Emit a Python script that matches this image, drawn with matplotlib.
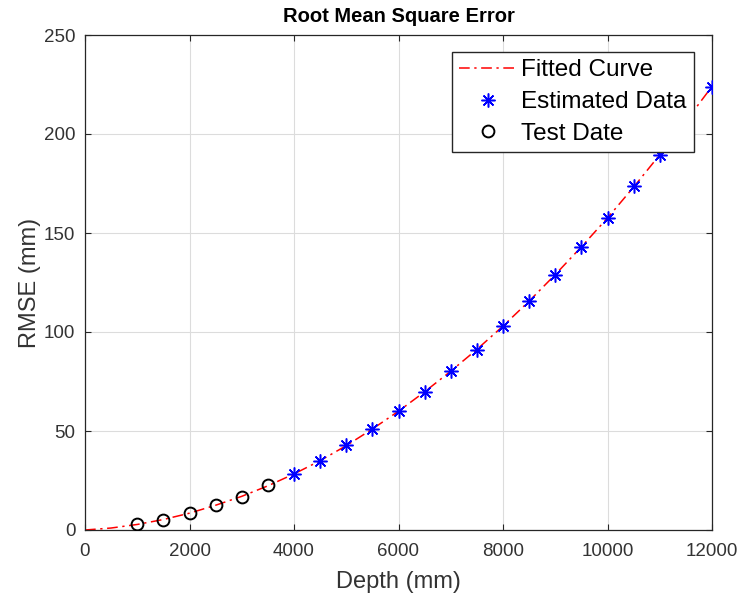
import matplotlib.pyplot as plt

# values
curve_x = [0, 500, 1000, 1500, 2000, 2500, 3000, 3500, 4000, 4500, 5000, 5500,
           6000, 6500, 7000, 7500, 8000, 8500, 9000, 9500, 10000, 10500, 11000,
           11500, 12000]
curve_y = [0, 1.0, 2.8, 5.3, 8.5, 12.5, 17.0, 22.3, 28.3, 35.0, 42.6, 51.0,
           60.0, 69.8, 80.2, 91.2, 103.0, 115.6, 129.0, 143.0, 157.6, 173.2, 189.5,
           206.5, 224.0]

est_x = [4000, 4500, 5000, 5500, 6000, 6500, 7000, 7500, 8000, 8500, 9000,
         9500, 10000, 10500, 11000, 11500, 12000]
est_y = [28.5, 34.8, 42.8, 51.0, 60.0, 69.7, 80.2, 91.0, 102.8, 115.8, 128.8,
         142.8, 157.5, 173.5, 189.5, 206.0, 223.8]

test_x = [1000, 1500, 2000, 2500, 3000, 3500]
test_y = [3.2, 5.2, 8.8, 12.7, 16.8, 22.6]

xticks = [0, 2000, 4000, 6000, 8000, 10000, 12000]
yticks = [0, 50, 100, 150, 200, 250]

plt.rcParams['font.family'] = ['Liberation Sans', 'DejaVu Sans']
axis_col = '#262626'
asterisk = (8, 2, 0)  # matlab style '*'

fig = plt.figure(figsize=(7.38, 5.97), dpi=100)
ax = fig.add_axes([85 / 738, 67 / 597, 627 / 738, 495 / 597])

ax.plot(curve_x, curve_y, color='red', linestyle=(0, (7, 3, 1.5, 3)),
        linewidth=1.1, label='Fitted Curve', zorder=2)
ax.plot(est_x, est_y, linestyle='none', marker=asterisk, color='blue',
        markersize=10, markeredgewidth=1.1, label='Estimated Data', zorder=3)
ax.plot(test_x, test_y, linestyle='none', marker='o', markerfacecolor='none',
        markeredgecolor='black', markeredgewidth=1.4, markersize=8.5,
        label='Test Date', zorder=3)

ax.set_xlim(0, 12000)
ax.set_ylim(0, 250)
ax.set_xticks(xticks)
ax.set_yticks(yticks)
ax.grid(True, color='#dcdcdc', linewidth=0.8)
ax.set_axisbelow(True)
ax.tick_params(direction='in', top=True, right=True, length=4, pad=7,
               labelsize=13.5, colors=axis_col, labelcolor='#333333')
ax.tick_params(axis='x', pad=9)
for s in ax.spines.values():
    s.set_color(axis_col)
    s.set_linewidth(0.9)

ax.set_xlabel('Depth (mm)', fontsize=17, color='#333333', labelpad=8)
ax.set_ylabel('RMSE (mm)', fontsize=17, color='#333333', labelpad=2)
ax.set_title('Root Mean Square Error', fontsize=14.5, fontweight='bold', pad=9)

leg = ax.legend(loc='upper right', bbox_to_anchor=(694 / 738, 545 / 597),
                bbox_transform=fig.transFigure, fontsize=17.5, framealpha=1,
                fancybox=False, edgecolor='#262626', borderpad=0.3,
                labelspacing=0.4, handlelength=2.35, handletextpad=0.2,
                borderaxespad=0)
leg.get_frame().set_linewidth(1.0)
leg.set_zorder(5)

fig.savefig('out.png', dpi=100)
